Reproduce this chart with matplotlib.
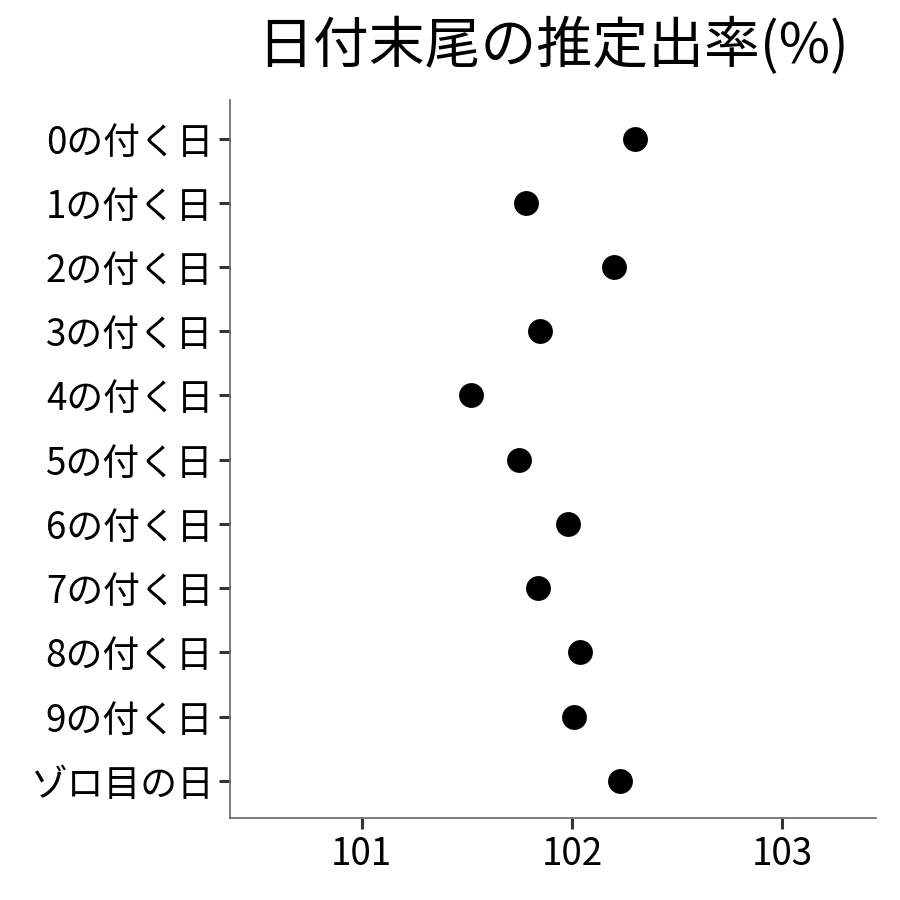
import matplotlib
matplotlib.use("Agg")
import matplotlib.pyplot as plt

plt.rcParams["font.family"] = ["Noto Sans CJK JP", "DejaVu Sans"]

# data
labels = ["0の付く日", "1の付く日", "2の付く日", "3の付く日", "4の付く日",
          "5の付く日", "6の付く日", "7の付く日", "8の付く日", "9の付く日",
          "ゾロ目の日"]
rates = [102.30, 101.78, 102.20, 101.85, 101.52,
         101.75, 101.98, 101.84, 102.04, 102.01, 102.23]
xticks = [101, 102, 103]

fig = plt.figure(figsize=(9, 9), dpi=100)
ax = fig.add_axes([0.2556, 0.0911, 0.7178, 0.7978])

ypos = list(range(len(labels)))
ax.scatter(rates, ypos, s=320, color="black", zorder=3, linewidths=0)

ax.set_yticks(ypos)
ax.set_yticklabels(labels, fontsize=26.5)
ax.set_xticks(xticks)
ax.set_xticklabels([str(t) for t in xticks], fontsize=26.5)
ax.set_xlim(100.375, 103.445)
ax.set_ylim(len(labels) - 1 + 0.58, -0.6)

for side in ["top", "right"]:
    ax.spines[side].set_visible(False)
for side in ["left", "bottom"]:
    ax.spines[side].set_color("#666666")
    ax.spines[side].set_linewidth(1.2)
ax.tick_params(length=8, width=2.2, color="#333333", pad=4)

fig.text(0.6144, 0.948, "日付末尾の推定出率(%)", fontsize=40.2,
         ha="center", va="center")

fig.savefig("out.png", dpi=100)
